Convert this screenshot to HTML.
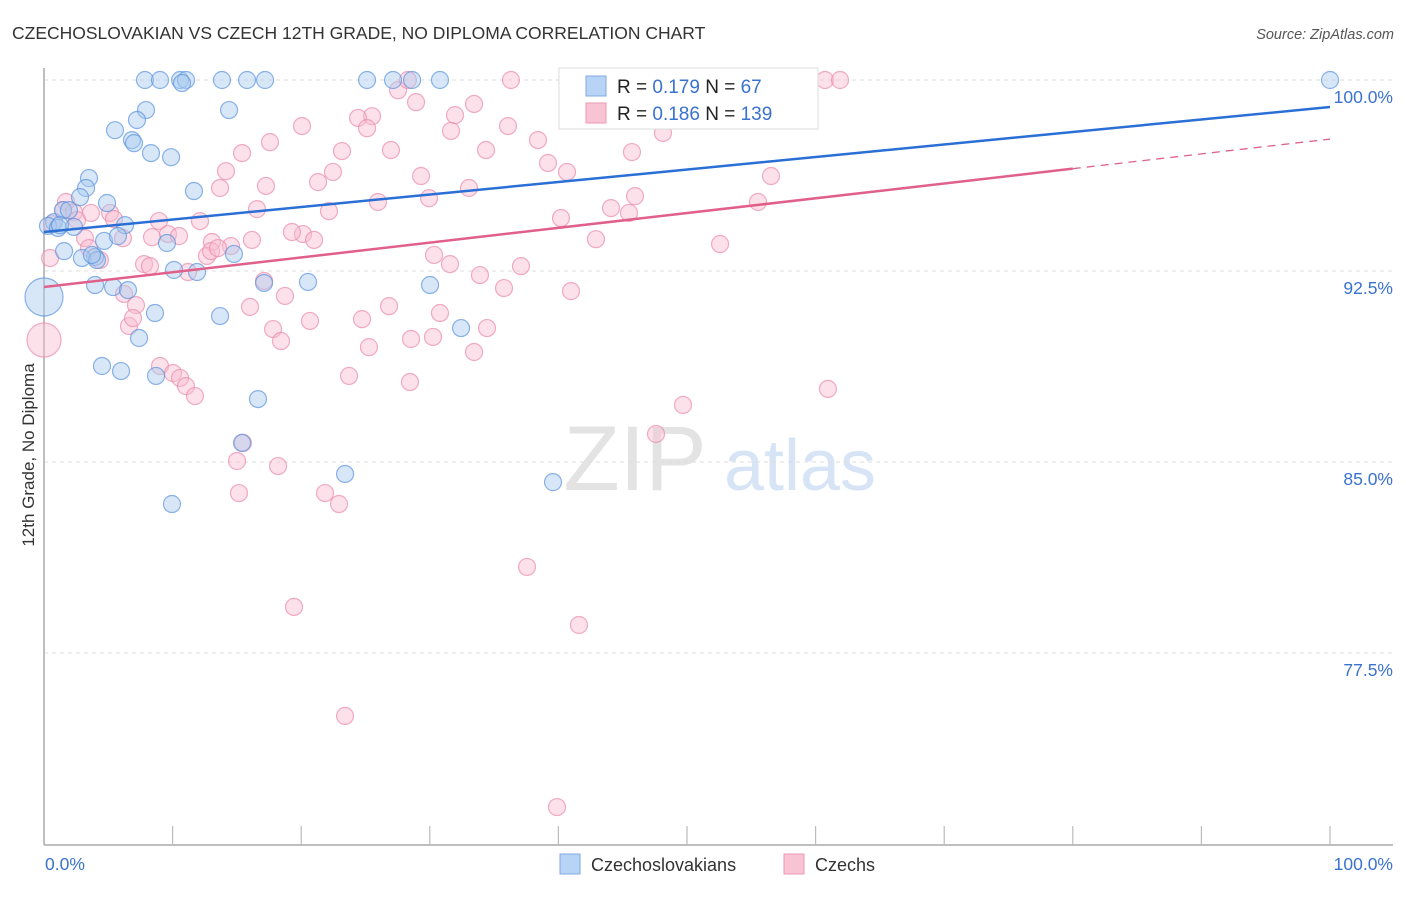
<!DOCTYPE html>
<html><head><meta charset="utf-8">
<style>
html,body{margin:0;padding:0;background:#fff;}
body{width:1406px;height:892px;overflow:hidden;font-family:"Liberation Sans",sans-serif;}
svg text{font-family:"Liberation Sans",sans-serif;}
</style></head>
<body>
<svg id="chart" width="1406" height="892" xmlns="http://www.w3.org/2000/svg">
<text x="12" y="39" font-size="17.5" fill="#333">CZECHOSLOVAKIAN VS CZECH 12TH GRADE, NO DIPLOMA CORRELATION CHART</text>
<text x="1394" y="39" font-size="14.5" fill="#555" font-style="italic" text-anchor="end">Source: ZipAtlas.com</text>
<text x="34" y="455" font-size="17" fill="#333" text-anchor="middle" transform="rotate(-90 34 455)">12th Grade, No Diploma</text>
<g>
<text x="635" y="490" font-size="92" fill="#e3e3e3" font-family="Liberation Serif" text-anchor="middle">ZIP</text>
<text x="800" y="490" font-size="72" fill="#d6e4f5" text-anchor="middle">atlas</text>
</g>
<g id="grid"></g>
<g id="axes"></g>
<g id="pts"></g>
<g id="lines"></g>
<g>
<rect x="559" y="68" width="259" height="61" fill="#fff" stroke="#ddd"/>
<rect x="586" y="76" width="20" height="20" fill="#b7d3f5" stroke="#7fa9e0"/>
<text x="617" y="93" font-size="19" fill="#222">R = <tspan fill="#3a72d0">0.179</tspan>   N = <tspan fill="#3a72d0">  67</tspan></text>
<rect x="586" y="103" width="20" height="20" fill="#f8c3d3" stroke="#ec9ab5"/>
<text x="617" y="120" font-size="19" fill="#222">R = <tspan fill="#3a72d0">0.186</tspan>   N = <tspan fill="#3a72d0">139</tspan></text>
</g>
<g>
<rect x="560" y="854" width="20" height="20" fill="#b7d3f5" stroke="#7fa9e0"/>
<text x="591" y="871" font-size="18" fill="#333">Czechoslovakians</text>
<rect x="784" y="854" width="20" height="20" fill="#f8c3d3" stroke="#ec9ab5"/>
<text x="815" y="871" font-size="18" fill="#333">Czechs</text>
</g>
</svg>
<script>
const yTicks = [100, 92.5, 85, 77.5];
const yTickLabels = ["100.0%", "92.5%", "85.0%", "77.5%"];
const xTickLabels = ["0.0%", "100.0%"];
const blueLine = [94.03, 98.94];
const pinkLine = [91.87, 97.68];
const pinkSolidEnd = 80;
const bluePts = [[7.85,100],[9.02,100],[10.58,100],[11.04,100],[13.84,100],[15.79,100],[17.19,100],[25.12,100],[27.14,100],[28.62,100],[30.79,100],[100,100],[10.73,99.88],[7.93,98.82],[14.39,98.82],[5.52,98.03],[7.23,98.43],[6.84,97.64],[7.0,97.52],[8.32,97.13],[9.88,96.97],[3.5,96.15],[3.27,95.76],[2.8,95.4],[4.9,95.17],[11.66,95.64],[0.78,94.42],[0.31,94.27],[1.09,94.19],[2.33,94.23],[1.48,94.89],[1.94,94.89],[6.3,94.3],[4.67,93.68],[5.75,93.87],[9.56,93.6],[1.56,93.28],[3.97,93.05],[2.95,93.01],[4.12,92.93],[10.11,92.54],[11.9,92.46],[14.77,93.17],[3.97,91.95],[5.37,91.87],[6.53,91.75],[17.11,92.03],[20.53,92.07],[30.02,91.95],[8.63,90.85],[13.69,90.73],[32.43,90.26],[7.39,89.87],[4.51,88.77],[5.99,88.57],[8.71,88.38],[16.64,87.47],[15.4,85.75],[23.41,84.53],[39.58,84.21],[9.95,83.35],[3.73,93.13],[1.24,94.3]];
const blueBig = [[0,91.48]];
const pinkPts = [[36.31,100],[41.68,100],[44.09,100],[46.42,100],[48.37,100],[52.57,100],[53.89,100],[60.73,100],[61.9,100],[27.53,99.6],[28.3,100],[28.93,99.13],[33.44,99.06],[31.96,98.62],[25.51,98.58],[24.42,98.51],[25.12,98.11],[20.06,98.19],[17.57,97.56],[31.65,98.0],[36.08,98.19],[38.41,97.64],[26.98,97.25],[23.17,97.21],[34.37,97.25],[45.72,97.17],[48.13,97.92],[39.19,96.74],[40.67,96.39],[15.4,97.13],[14.15,96.42],[22.47,96.39],[29.32,96.23],[17.26,95.84],[21.31,95.99],[13.69,95.76],[33.05,95.76],[29.94,95.36],[25.97,95.21],[45.96,95.44],[55.52,95.21],[56.53,96.23],[44.09,94.97],[45.49,94.78],[40.2,94.58],[22.16,94.85],[16.56,94.93],[12.13,94.46],[8.94,94.46],[1.71,95.21],[1.48,94.89],[2.33,94.81],[3.65,94.78],[5.13,94.78],[5.44,94.54],[2.57,94.5],[0.62,94.34],[20.14,93.95],[19.28,94.03],[21.0,93.72],[16.17,93.72],[14.54,93.48],[13.06,93.64],[9.64,93.95],[10.5,93.87],[8.4,93.83],[6.14,93.79],[3.19,93.79],[3.5,93.4],[4.35,92.93],[7.78,92.77],[8.24,92.69],[12.67,93.09],[11.2,92.46],[12.99,93.28],[13.53,93.4],[30.33,93.13],[31.57,92.77],[33.9,92.34],[37.09,92.69],[35.77,91.83],[40.98,91.71],[42.92,93.75],[52.57,93.56],[6.22,91.6],[17.11,92.11],[18.74,91.52],[7.15,91.16],[16.02,91.09],[20.68,90.54],[24.73,90.61],[26.83,91.12],[30.79,90.85],[34.45,90.26],[33.44,89.32],[6.61,90.34],[6.92,90.65],[17.81,90.22],[18.43,89.75],[25.27,89.51],[28.54,89.83],[30.25,89.91],[28.46,88.14],[23.72,88.38],[9.02,88.77],[10.03,88.49],[10.58,88.3],[11.04,87.98],[11.74,87.59],[49.69,87.24],[60.96,87.87],[15.47,85.75],[15.01,85.04],[18.2,84.84],[15.16,83.78],[21.85,83.78],[22.94,83.35],[47.59,86.1],[37.56,80.88],[19.44,79.31],[41.6,78.6],[23.41,75.03],[39.89,71.45],[0.47,93.01]];
const pinkBig = [[0,89.79]];

const NS = "http://www.w3.org/2000/svg";
const X0 = 44, X1 = 1330, Y100 = 80, PXPER = 191/7.5;
function xs(v){ return X0 + (X1 - X0) * v / 100; }
function ys(v){ return Y100 + (100 - v) * PXPER; }
function mk(tag, attrs, parent){ const e = document.createElementNS(NS, tag); for (const k in attrs) e.setAttribute(k, attrs[k]); parent.appendChild(e); return e; }

const grid = document.getElementById('grid');
yTicks.forEach((t, i) => {
  const l = mk('line', {x1: X0, x2: 1393, y1: ys(t), y2: ys(t), stroke: '#ddd', 'stroke-dasharray': '4,4'}, grid);
  
  
  const tx = mk('text', {x: 1393, y: ys(t) + 23, 'font-size': 17.5, fill: '#3a72d0', 'text-anchor': 'end'}, grid);
  tx.textContent = yTickLabels[i];
  
  
});
const axes = document.getElementById('axes');
const ax = mk('line', {x1: X0, x2: X0, y1: 68, y2: 845, stroke: '#aaa', 'stroke-width': 1.5}, axes);


const bx = mk('line', {x1: X0, x2: 1393, y1: 845, y2: 845, stroke: '#aaa', 'stroke-width': 1.5}, axes);


for (let i = 1; i <= 10; i++) {
  const t = mk('line', {x1: xs(i*10), x2: xs(i*10), y1: 826, y2: 845, stroke: '#bbb', 'stroke-width': 1.2}, axes);
  
  
}
const xl0 = mk('text', {x: 45, y: 870, 'font-size': 17.5, fill: '#3a72d0'}, axes);
xl0.textContent = xTickLabels[0];


const xl1 = mk('text', {x: 1393, y: 870, 'font-size': 17.5, fill: '#3a72d0', 'text-anchor': 'end'}, axes);
xl1.textContent = xTickLabels[1];



const pts = document.getElementById('pts');
function dot(p, r, fill, stroke, name){
  const c = mk('circle', {cx: xs(p[0]), cy: ys(p[1]), r: r, fill: fill, 'fill-opacity': 0.45, stroke: stroke, 'stroke-opacity': 0.7, 'stroke-width': 1.2}, pts);
  
  
}
pinkPts.forEach(p => dot(p, 8.5, '#f8bcd0', '#e98aab', 'czechs-point'));
pinkBig.forEach(p => dot(p, 17, '#f8bcd0', '#e98aab', 'czechs-point-large'));
bluePts.forEach(p => dot(p, 8.5, '#a9c9f0', '#5b93dd', 'czechoslovakians-point'));
blueBig.forEach(p => dot(p, 19, '#a9c9f0', '#5b93dd', 'czechoslovakians-point-large'));

const lines = document.getElementById('lines');
const bl = mk('line', {x1: xs(0), y1: ys(blueLine[0]), x2: xs(100), y2: ys(blueLine[1]), stroke: '#2a6fd6', 'stroke-width': 2.5}, lines);


const pm = pinkLine[0] + (pinkLine[1] - pinkLine[0]) * pinkSolidEnd / 100;
const pl = mk('line', {x1: xs(0), y1: ys(pinkLine[0]), x2: xs(pinkSolidEnd), y2: ys(pm), stroke: '#e0608a', 'stroke-width': 2.5}, lines);


const pd = mk('line', {x1: xs(pinkSolidEnd), y1: ys(pm), x2: xs(100), y2: ys(pinkLine[1]), stroke: '#e0608a', 'stroke-width': 1.3, 'stroke-dasharray': '8,6'}, lines);


</script>
</body></html>
